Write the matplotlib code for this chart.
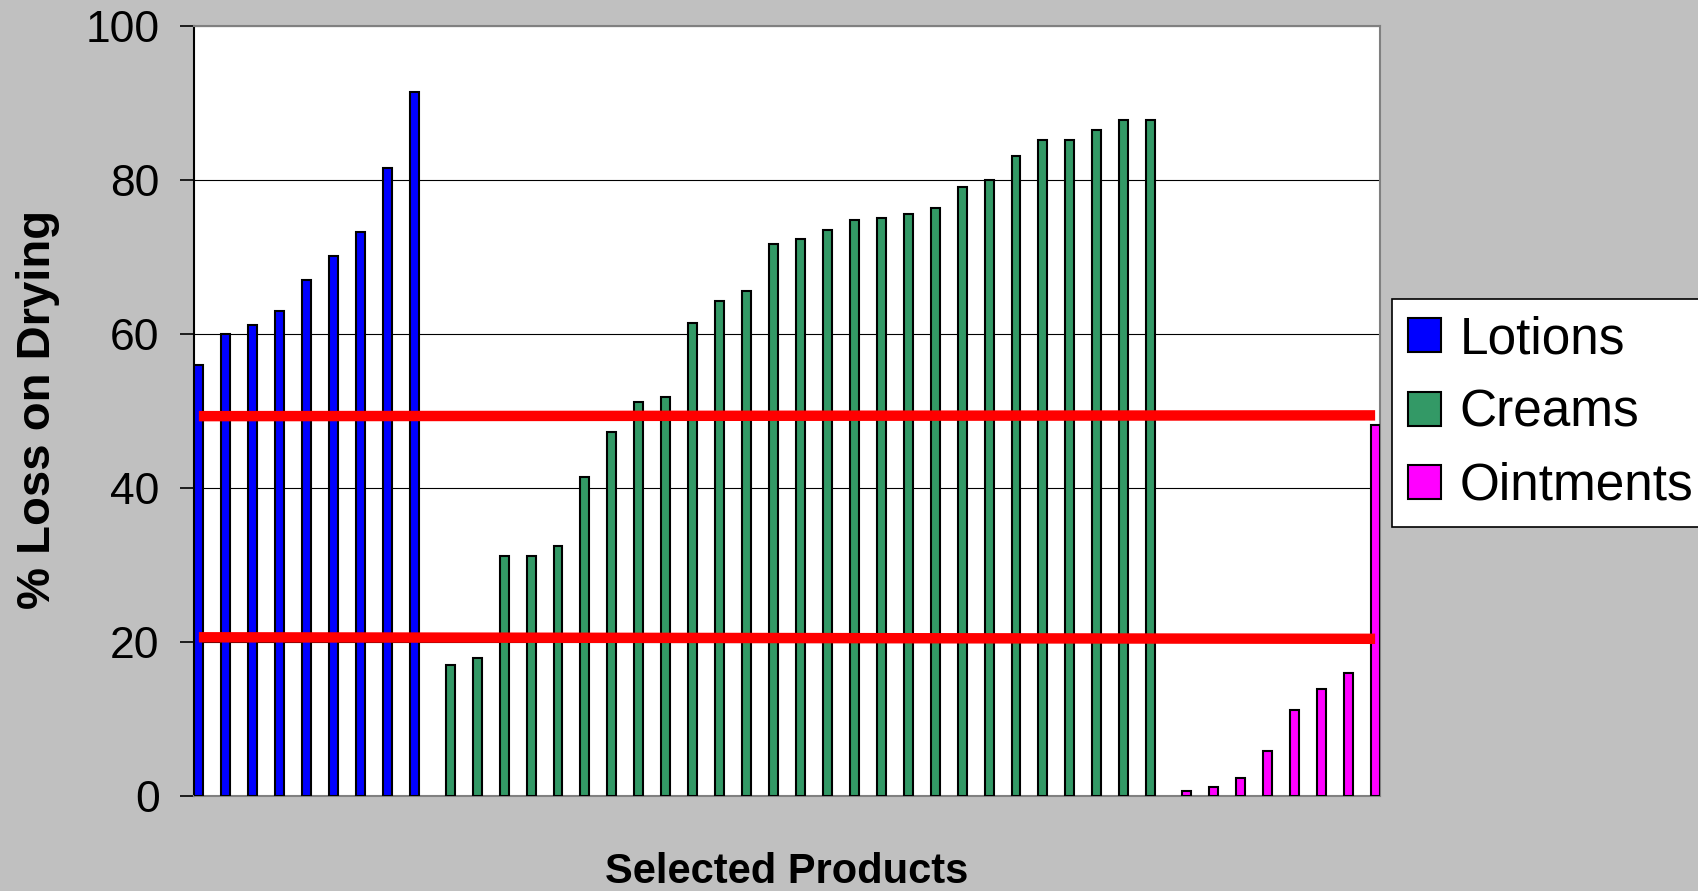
import numpy as np
import matplotlib
matplotlib.use("Agg")
import matplotlib.pyplot as plt

plt.rcParams['font.family'] = ['Liberation Sans', 'DejaVu Sans']

# % loss on drying per product, sorted within each product type
lotions = [55.9, 60.0, 61.1, 63.0, 67.0, 70.1, 73.2, 81.5, 91.4]
creams = [17.0, 17.9, 31.2, 31.2, 32.4, 41.4, 47.2, 51.2, 51.8, 61.4,
          64.2, 65.5, 71.6, 72.3, 73.5, 74.7, 75.0, 75.6, 76.3, 79.0,
          80.0, 83.0, 85.2, 85.2, 86.4, 87.7, 87.7]
ointments = [0.6, 1.2, 2.4, 5.8, 11.1, 13.9, 16.0, 48.2]

series_names = ["Lotions", "Creams", "Ointments"]
series_colors = ["#0000FF", "#339966", "#FF00FF"]

# reference limits drawn across the whole product range
upper_limit = [49.3, 49.4]
lower_limit = [20.6, 20.4]

yticks = [0, 20, 40, 60, 80, 100]

n_l, n_c, n_o = len(lotions), len(creams), len(ointments)
n_total = n_l + n_c + n_o
bw = 1.0 / 3.0

fig = plt.figure(figsize=(16.99, 8.91), dpi=100, facecolor="#C0C0C0")
ax = fig.add_axes([194.3 / 1699, 95 / 891, (1379.7 - 194.3) / 1699, (796 - 25.5) / 891])
ax.set_facecolor("white")

# each product occupies one category slot; the series sit side by side in it
x_l = np.arange(0, n_l) - bw
x_c = np.arange(n_l, n_l + n_c) + 0.0
x_o = np.arange(n_l + n_c, n_total) + bw

data = [(x_l, lotions), (x_c, creams), (x_o, ointments)]
for (xs, vals), name, col in zip(data, series_names, series_colors):
    ax.bar(xs, vals, width=bw, color=col, edgecolor="black", linewidth=1.5,
           label=name, zorder=3)

line_x = [-0.33, n_total - 1 + 0.33]
ax.plot(line_x, upper_limit, color="#FF0000", linewidth=7.5, zorder=4,
        solid_capstyle="butt")
ax.plot(line_x, lower_limit, color="#FF0000", linewidth=7.5, zorder=4,
        solid_capstyle="butt")

ax.set_xlim(-0.5, n_total - 0.5)
ax.set_ylim(0, 100)
ax.set_yticks(yticks)
ax.set_yticklabels([str(t) for t in yticks])
ax.set_xticks([])
ax.yaxis.grid(True, color="black", linewidth=0.8, zorder=0)
ax.set_axisbelow(True)
ax.tick_params(axis="y", direction="out", length=10, width=1.2, pad=15,
               labelsize=32, colors="black")

for side in ["top", "right", "bottom"]:
    ax.spines[side].set_color("#808080")
    ax.spines[side].set_linewidth(1.5)
ax.spines["left"].set_color("black")
ax.spines["left"].set_linewidth(1.5)

fig.text(38 / 1699, 1 - 409 / 891, "% Loss on Drying", rotation=90,
         ha="center", va="center", fontsize=34, fontweight="bold")
fig.text(787 / 1699, 8 / 891, "Selected Products", ha="center",
         va="baseline", fontsize=30, fontweight="bold")

leg = ax.legend(loc="upper left", bbox_to_anchor=(1392 / 1699, 1 - 299 / 891),
                bbox_transform=fig.transFigure, borderaxespad=0,
                fontsize=37, frameon=True, fancybox=False,
                handlelength=0.64, handleheight=0.64, handletextpad=0.35,
                labelspacing=0.47, borderpad=0.32)
leg.get_frame().set_edgecolor("black")
leg.get_frame().set_linewidth(1.2)
leg.get_frame().set_facecolor("white")
leg.get_frame().set_alpha(1)

fig.savefig("out.png", dpi=100, facecolor=fig.get_facecolor())
